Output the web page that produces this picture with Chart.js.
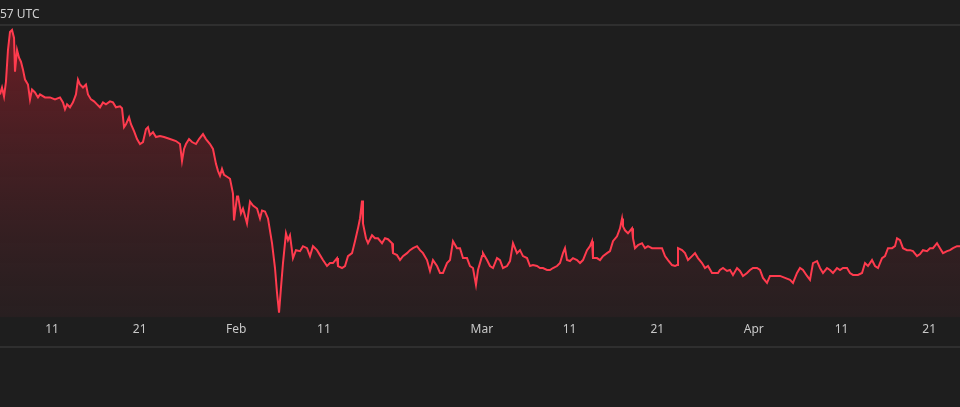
<!DOCTYPE html>
<html><head><meta charset="utf-8">
<script src="https://cdn.jsdelivr.net/npm/chart.js@4/dist/chart.umd.min.js"></script>
<style>
html,body{margin:0;padding:0;background:#1e1e1e;width:960px;height:407px;overflow:hidden;font-family:"Noto Sans",sans-serif}
#wrap{position:absolute;left:0;top:0;width:960px;height:407px}
#hdr{position:absolute;left:0;top:5px;color:#d0d0d0;font-size:12px}
.ln{position:absolute;left:0;width:960px;height:2px;background:#2f2f2f}
</style></head><body>
<div id="wrap"><canvas id="c" width="960" height="407"></canvas></div>
<div id="hdr">57 UTC</div>
<div class="ln" style="top:24px"></div>
<div class="ln" style="top:346px"></div>
<script>
// days since Jan 1 (day 0 = Jan 1)
const days = [4.07,4.30,4.53,4.75,4.98,5.21,5.44,5.67,5.78,6.01,6.24,6.46,6.69,6.92,7.26,7.49,7.72,8.06,8.40,8.63,9.20,9.77,10.34,10.91,11.25,11.48,11.71,12.05,12.39,12.73,12.96,13.19,13.53,13.87,14.10,14.44,14.79,15.13,15.47,15.81,16.15,16.61,16.95,17.29,17.75,17.98,18.21,18.43,18.78,19.00,19.35,19.69,20.03,20.37,20.71,20.94,21.17,21.51,21.85,22.31,22.77,23.45,24.13,24.59,24.82,25.05,25.27,25.62,25.96,26.41,26.76,27.21,27.55,28.01,28.35,28.69,28.92,29.15,29.38,29.61,29.95,30.29,30.63,30.75,31.09,31.20,31.54,31.77,32.23,32.57,32.91,33.37,33.71,33.94,34.28,34.62,35.08,35.42,35.65,35.88,36.10,36.33,36.67,36.90,37.13,37.47,37.81,38.27,38.61,39.07,39.41,39.75,40.21,40.55,40.89,41.35,41.69,42.03,42.49,42.60,43.06,43.40,43.74,44.20,44.54,44.88,45.11,45.34,45.45,45.79,46.02,46.48,46.82,47.16,47.62,47.96,48.30,48.76,48.87,49.33,49.67,50.01,50.47,50.81,51.15,51.61,51.95,52.29,52.75,53.09,53.43,53.89,54.23,54.57,55.03,55.37,55.71,56.17,56.51,56.85,57.31,57.65,57.99,58.33,58.56,59.02,59.13,59.59,59.93,60.27,60.73,61.07,61.41,61.87,62.21,62.55,63.01,63.35,63.69,64.15,64.49,64.83,65.29,65.63,65.97,66.43,66.77,67.11,67.57,67.91,68.25,68.48,68.71,69.05,69.39,69.85,70.19,70.53,70.99,71.33,71.56,71.67,72.13,72.47,72.81,73.27,73.61,73.95,74.41,74.75,74.98,75.09,75.32,75.66,76.12,76.23,76.46,76.80,77.26,77.60,77.94,78.40,78.74,79.08,79.54,79.88,80.22,80.68,81.02,81.25,81.36,81.82,82.16,82.50,82.96,83.30,83.64,84.10,84.44,84.78,85.24,85.58,85.92,86.15,86.49,86.95,87.29,87.63,88.09,88.43,88.77,89.23,89.57,89.91,90.37,90.71,91.05,91.51,91.85,92.42,92.99,93.56,94.13,94.47,94.93,95.27,95.61,96.07,96.41,96.75,97.21,97.55,97.89,98.35,98.69,99.03,99.49,99.83,100.17,100.63,100.97,101.31,101.88,102.34,102.68,103.02,103.48,103.82,104.16,104.62,104.96,105.30,105.76,106.10,106.33,106.67,107.01,107.47,107.81,108.15,108.61,108.95,109.29,109.75,110.09,110.43,110.89,111.23,111.57,112.03,112.37,112.71,113.17,113.51];
const prices = [235,242,233,248,280,298,300,292,258,280,272,268,260,250,245,230,240,237,232,235,232,232,230,232,227,220,225,222,227,235,250,245,242,245,235,230,228,225,222,227,225,228,227,222,223,221,202,205,212,205,198,190,185,187,200,202,194,197,192,193,192,190,188,185,168,180,185,190,187,185,190,195,190,185,180,165,158,153,160,154,152,150,135,108,132,133,115,120,105,127,123,120,110,118,117,110,85,60,35,15,40,65,95,88,93,70,78,77,82,80,72,82,78,73,68,62,65,65,70,62,60,62,72,75,87,100,110,128,105,90,85,93,90,90,85,90,89,85,75,73,68,72,75,78,80,82,78,75,68,57,68,62,55,55,65,68,87,80,80,70,70,62,60,43,58,72,75,68,62,60,70,68,60,62,67,85,75,78,72,70,62,63,62,60,60,58,58,60,62,65,75,80,68,67,70,68,65,68,78,82,87,70,70,68,72,75,77,87,92,100,110,102,98,95,100,90,80,83,85,80,82,80,80,80,80,72,68,63,62,63,80,78,75,68,72,75,70,65,60,62,55,55,55,58,60,57,58,53,60,57,52,55,58,60,60,58,50,45,52,52,52,50,48,45,55,60,58,52,48,65,67,60,55,60,58,55,60,58,60,60,55,53,53,55,65,62,68,62,60,70,72,80,80,82,90,88,80,78,78,77,72,74,78,77,80,80,85,80,75,77,78,80,82,82];
const tickDays = [10,20,31,41,59,69,79,90,100,110];
const tickLabels = ["11","21","Feb","11","Mar","11","21","Apr","11","21"];

const pts = days.map((d,i)=>({x:d,y:prices[i]}));
new Chart(document.getElementById('c'),{
  type:'line',
  data:{datasets:[{data:pts,borderColor:'#ff3b4e',borderWidth:2,pointRadius:0,tension:0,fill:'start',
    backgroundColor:(ctx)=>{const a=ctx.chart.chartArea;if(!a)return 'rgba(0,0,0,0)';
      const g=ctx.chart.ctx.createLinearGradient(0,a.top,0,a.bottom);
      g.addColorStop(0,'rgba(140,30,40,0.7)');g.addColorStop(1,'rgba(70,35,40,0.25)');return g;}}]},
  options:{responsive:false,animation:false,
    layout:{padding:{top:26,bottom:65,left:0,right:0}},
    plugins:{legend:{display:false},tooltip:{enabled:false}},
    scales:{
      x:{type:'linear',min:days[0],max:days[days.length-1],
        grid:{display:false,drawTicks:false,tickLength:0},border:{display:false},
        afterBuildTicks:(ax)=>{ax.ticks=tickDays.map(v=>({value:v}));},
        ticks:{padding:5,autoSkip:false,maxRotation:0,color:'#c8c8c8',font:{size:12,family:'"Noto Sans"'},
          callback:(v)=>{const i=tickDays.indexOf(v);return i>=0?tickLabels[i]:'';}}},
      y:{display:false,min:10,max:304}
    }}
});
</script></body></html>
